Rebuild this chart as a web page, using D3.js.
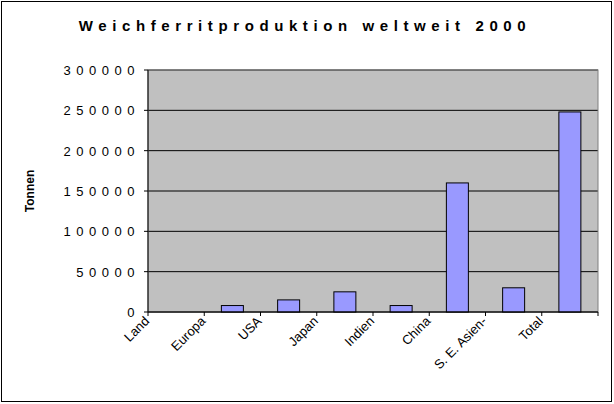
<!DOCTYPE html><html><head><meta charset="utf-8">
<script src="https://cdn.jsdelivr.net/npm/d3@7/dist/d3.min.js"></script>
<style>body{margin:0;background:#fff}text{font-family:"Liberation Sans",Arial,sans-serif}</style></head><body>
<svg id="c" width="614" height="404"></svg>
<script>
const categories=["Land","Europa","USA","Japan","Indien","China","S. E. Asien-","Total"];
const values=[0,8000,15000,25000,8000,160000,30000,248000];
const yTicks=[0,50000,100000,150000,200000,250000,300000];
const svg=d3.select("#c");
svg.append("rect").attr("x",1.5).attr("y",1.5).attr("width",610).attr("height",400).attr("fill","#fff").attr("stroke","#000");
const L=148,R=598,T=70,B=312;
const x=d3.scaleBand().domain(categories).range([L,R]);
const y=d3.scaleLinear().domain([0,300000]).range([B,T]);
svg.append("rect").attr("x",L).attr("y",T).attr("width",R-L).attr("height",B-T).attr("fill","#c0c0c0");
svg.selectAll(".g").data(yTicks).join("line").attr("x1",L).attr("x2",R).attr("y1",d=>y(d)).attr("y2",d=>y(d)).attr("stroke","#000");
svg.append("rect").attr("x",L).attr("y",T).attr("width",R-L).attr("height",B-T).attr("fill","none").attr("stroke","#808080");
const bw=22;
svg.selectAll(".b").data(values).join("rect")
 .attr("x",(d,i)=>x(categories[i])+x.bandwidth()/2-bw/2).attr("width",bw)
 .attr("y",d=>y(d)).attr("height",d=>B-y(d)).attr("fill","#9999ff").attr("stroke","#000");
svg.append("line").attr("x1",L).attr("x2",L).attr("y1",T).attr("y2",B).attr("stroke","#000");
svg.append("line").attr("x1",L).attr("x2",R).attr("y1",B).attr("y2",B).attr("stroke","#000");
yTicks.forEach(t=>{
 svg.append("line").attr("x1",L-4).attr("x2",L).attr("y1",y(t)).attr("y2",y(t)).attr("stroke","#000");
 svg.append("text").attr("x",L-8).attr("y",y(t)+5).attr("text-anchor","end").attr("font-size",13).attr("letter-spacing",5.5).text(String(t));
});
categories.forEach((c,i)=>{
 const px=x(c);
 svg.append("line").attr("x1",px).attr("x2",px).attr("y1",B).attr("y2",B+4).attr("stroke","#000");
 svg.append("text").attr("transform",`translate(${px+2},${B+10}) rotate(-45)`).attr("text-anchor","end").attr("font-size",13).text(c);
});
svg.append("line").attr("x1",R).attr("x2",R).attr("y1",B).attr("y2",B+4).attr("stroke","#000");
svg.append("text").attr("x",305).attr("y",31).attr("text-anchor","middle").attr("font-size",15).attr("font-weight","bold").attr("letter-spacing",5.6).text("Weichferritproduktion weltweit 2000");
svg.append("text").attr("transform","translate(34,191) rotate(-90)").attr("text-anchor","middle").attr("font-size",12).attr("font-weight","bold").text("Tonnen");
</script></body></html>
